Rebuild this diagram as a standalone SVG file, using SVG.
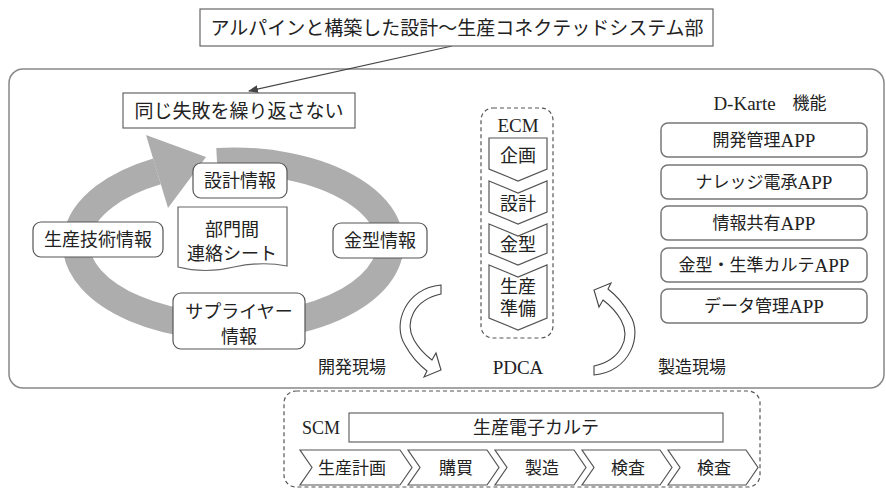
<svg xmlns="http://www.w3.org/2000/svg" width="886" height="491" viewBox="0 0 886 491">
<style>
  .t { font-family: "Liberation Serif", "Noto Sans CJK JP", serif; fill: #222; text-anchor: middle; dominant-baseline: central; }
  .lat { font-size: 19px; }
  .box { fill: #fff; stroke: #666; stroke-width: 1.2; }
  .rbox { fill: #fff; stroke: #555; stroke-width: 1.2; }
  .app { fill: #fff; stroke: #777; stroke-width: 1.5; }
  .dash { fill: none; stroke: #555; stroke-width: 1.2; stroke-dasharray: 4 3; }
  .chev { fill: #fff; stroke: #555; stroke-width: 1.2; }
  .curv { fill: #fff; stroke: #444; stroke-width: 1.1; }
  .ring { fill: none; stroke: #adadad; stroke-width: 27; }
</style>
<defs>
  <marker id="ah" markerWidth="10" markerHeight="8" refX="9" refY="4" orient="auto" markerUnits="userSpaceOnUse">
    <path d="M0,0 L10,4 L0,8 Z" fill="#444"/>
  </marker>
  <path id="carrow" d="M441,285 C405,288 392,325 405,345 C411,356 418,364 427,371 L424,377 L441,370 L436,353 L432,360 C424,354 418,347 414,340 C404,322 414,300 441,294 Z"/>
</defs>

<!-- main frame -->
<rect x="9" y="69" width="875" height="319" rx="14" fill="none" stroke="#888" stroke-width="1.5"/>

<g id="connectors">
  <line x1="452" y1="46" x2="249" y2="91" stroke="#444" stroke-width="1.2" marker-end="url(#ah)"/>
  <use href="#carrow" class="curv"/>
  <use href="#carrow" class="curv" transform="rotate(180 517.5 330)"/>
</g>

<g id="top-title">
  <rect class="box" x="200" y="9" width="513" height="37"/>
  <text class="t" x="457" y="28" font-size="19">アルパインと構築した設計〜生産コネクテッドシステム部</text>
</g>

<g id="motto">
  <rect class="box" x="123" y="93" width="232" height="35"/>
  <text class="t" x="239" y="111" font-size="19">同じ失敗を繰り返さない</text>
</g>

<g id="cycle-ring">
  <path class="ring" d="M217,161.4 A157,83 0 1 1 157,171.4"/>
  <path d="M146,135 L168,208 L206,157 Z" fill="#adadad"/>
</g>

<g id="n-sekkei">
  <rect class="rbox" x="193" y="163" width="94" height="35" rx="8"/>
  <text class="t" x="240" y="181" font-size="18">設計情報</text>
</g>
<g id="n-seisan-gijutsu">
  <rect class="rbox" x="33" y="222" width="130" height="35" rx="8"/>
  <text class="t" x="98" y="240" font-size="18">生産技術情報</text>
</g>
<g id="n-kanagata">
  <rect class="rbox" x="333" y="223" width="94" height="35" rx="8"/>
  <text class="t" x="380" y="241" font-size="18">金型情報</text>
</g>
<g id="n-sheet">
  <path class="box" d="M178,207 H287 V266 Q262,261 234,267 Q205,274 178,267 Z"/>
  <text class="t" x="232" y="230" font-size="18">部門間</text>
  <text class="t" x="232" y="254" font-size="18">連絡シート</text>
</g>
<g id="n-supplier">
  <rect class="rbox" x="173" y="293" width="132" height="56" rx="8"/>
  <text class="t" x="239" y="312" font-size="18">サプライヤー</text>
  <text class="t" x="239" y="337" font-size="18">情報</text>
</g>

<g id="ecm">
  <rect class="dash" x="481" y="108" width="72" height="230" rx="12"/>
  <text class="t" x="518" y="125" font-size="19">ECM</text>
  <path class="chev" d="M489,138 H547 V169 L518,181 L489,169 Z"/>
  <text class="t" x="518" y="156" font-size="18">企画</text>
  <path class="chev" d="M489,181 L518,193 L547,181 V212 L518,224 L489,212 Z"/>
  <text class="t" x="518" y="204" font-size="18">設計</text>
  <path class="chev" d="M489,224 L518,236 L547,224 V253 L518,265 L489,253 Z"/>
  <text class="t" x="518" y="245" font-size="18">金型</text>
  <path class="chev" d="M489,265 L518,277 L547,265 V318 L518,330 L489,318 Z"/>
  <text class="t" x="518" y="287" font-size="18">生産</text>
  <text class="t" x="518" y="309" font-size="18">準備</text>
</g>

<g id="labels">
  <text class="t" x="352" y="367" font-size="17">開発現場</text>
  <text class="t" x="518" y="367" font-size="19">PDCA</text>
  <text class="t" x="692" y="367" font-size="17">製造現場</text>
</g>

<g id="dkarte">
  <text class="t" x="770" y="103" font-size="17"><tspan class="lat">D-Karte</tspan>　機能</text>
  <rect class="app" x="661" y="123" width="206" height="34" rx="7"/>
  <text class="t" x="764" y="140" font-size="17">開発管理<tspan class="lat">APP</tspan></text>
  <rect class="app" x="661" y="165" width="206" height="34" rx="7"/>
  <text class="t" x="764" y="182" font-size="17">ナレッジ電承<tspan class="lat">APP</tspan></text>
  <rect class="app" x="661" y="206" width="206" height="34" rx="7"/>
  <text class="t" x="764" y="223" font-size="17">情報共有<tspan class="lat">APP</tspan></text>
  <rect class="app" x="661" y="248" width="206" height="34" rx="7"/>
  <text class="t" x="764" y="265" font-size="17">金型・生準カルテ<tspan class="lat">APP</tspan></text>
  <rect class="app" x="661" y="289" width="206" height="34" rx="7"/>
  <text class="t" x="764" y="306" font-size="17">データ管理<tspan class="lat">APP</tspan></text>
</g>

<g id="scm">
  <rect class="dash" x="284" y="391" width="476" height="96" rx="12"/>
  <text class="t" x="321" y="428" font-size="18">SCM</text>
  <rect class="box" x="349" y="413" width="374" height="29"/>
  <text class="t" x="536" y="428" font-size="18">生産電子カルテ</text>
  <path class="chev" stroke="#999" d="M300,450 H400 L412,467.5 L400,485 H300 L312,467.5 Z"/>
  <text class="t" x="352" y="468" font-size="17">生産計画</text>
  <path class="chev" d="M408,450 H487 L499,467.5 L487,485 H408 L420,467.5 Z"/>
  <text class="t" x="456" y="468" font-size="17">購買</text>
  <path class="chev" d="M495,450 H574 L586,467.5 L574,485 H495 L507,467.5 Z"/>
  <text class="t" x="542" y="468" font-size="17">製造</text>
  <path class="chev" d="M582,450 H660 L672,467.5 L660,485 H582 L594,467.5 Z"/>
  <text class="t" x="628" y="468" font-size="17">検査</text>
  <path class="chev" d="M668,450 H746 L758,467.5 L746,485 H668 L680,467.5 Z"/>
  <text class="t" x="714" y="468" font-size="17">検査</text>
</g>
</svg>
